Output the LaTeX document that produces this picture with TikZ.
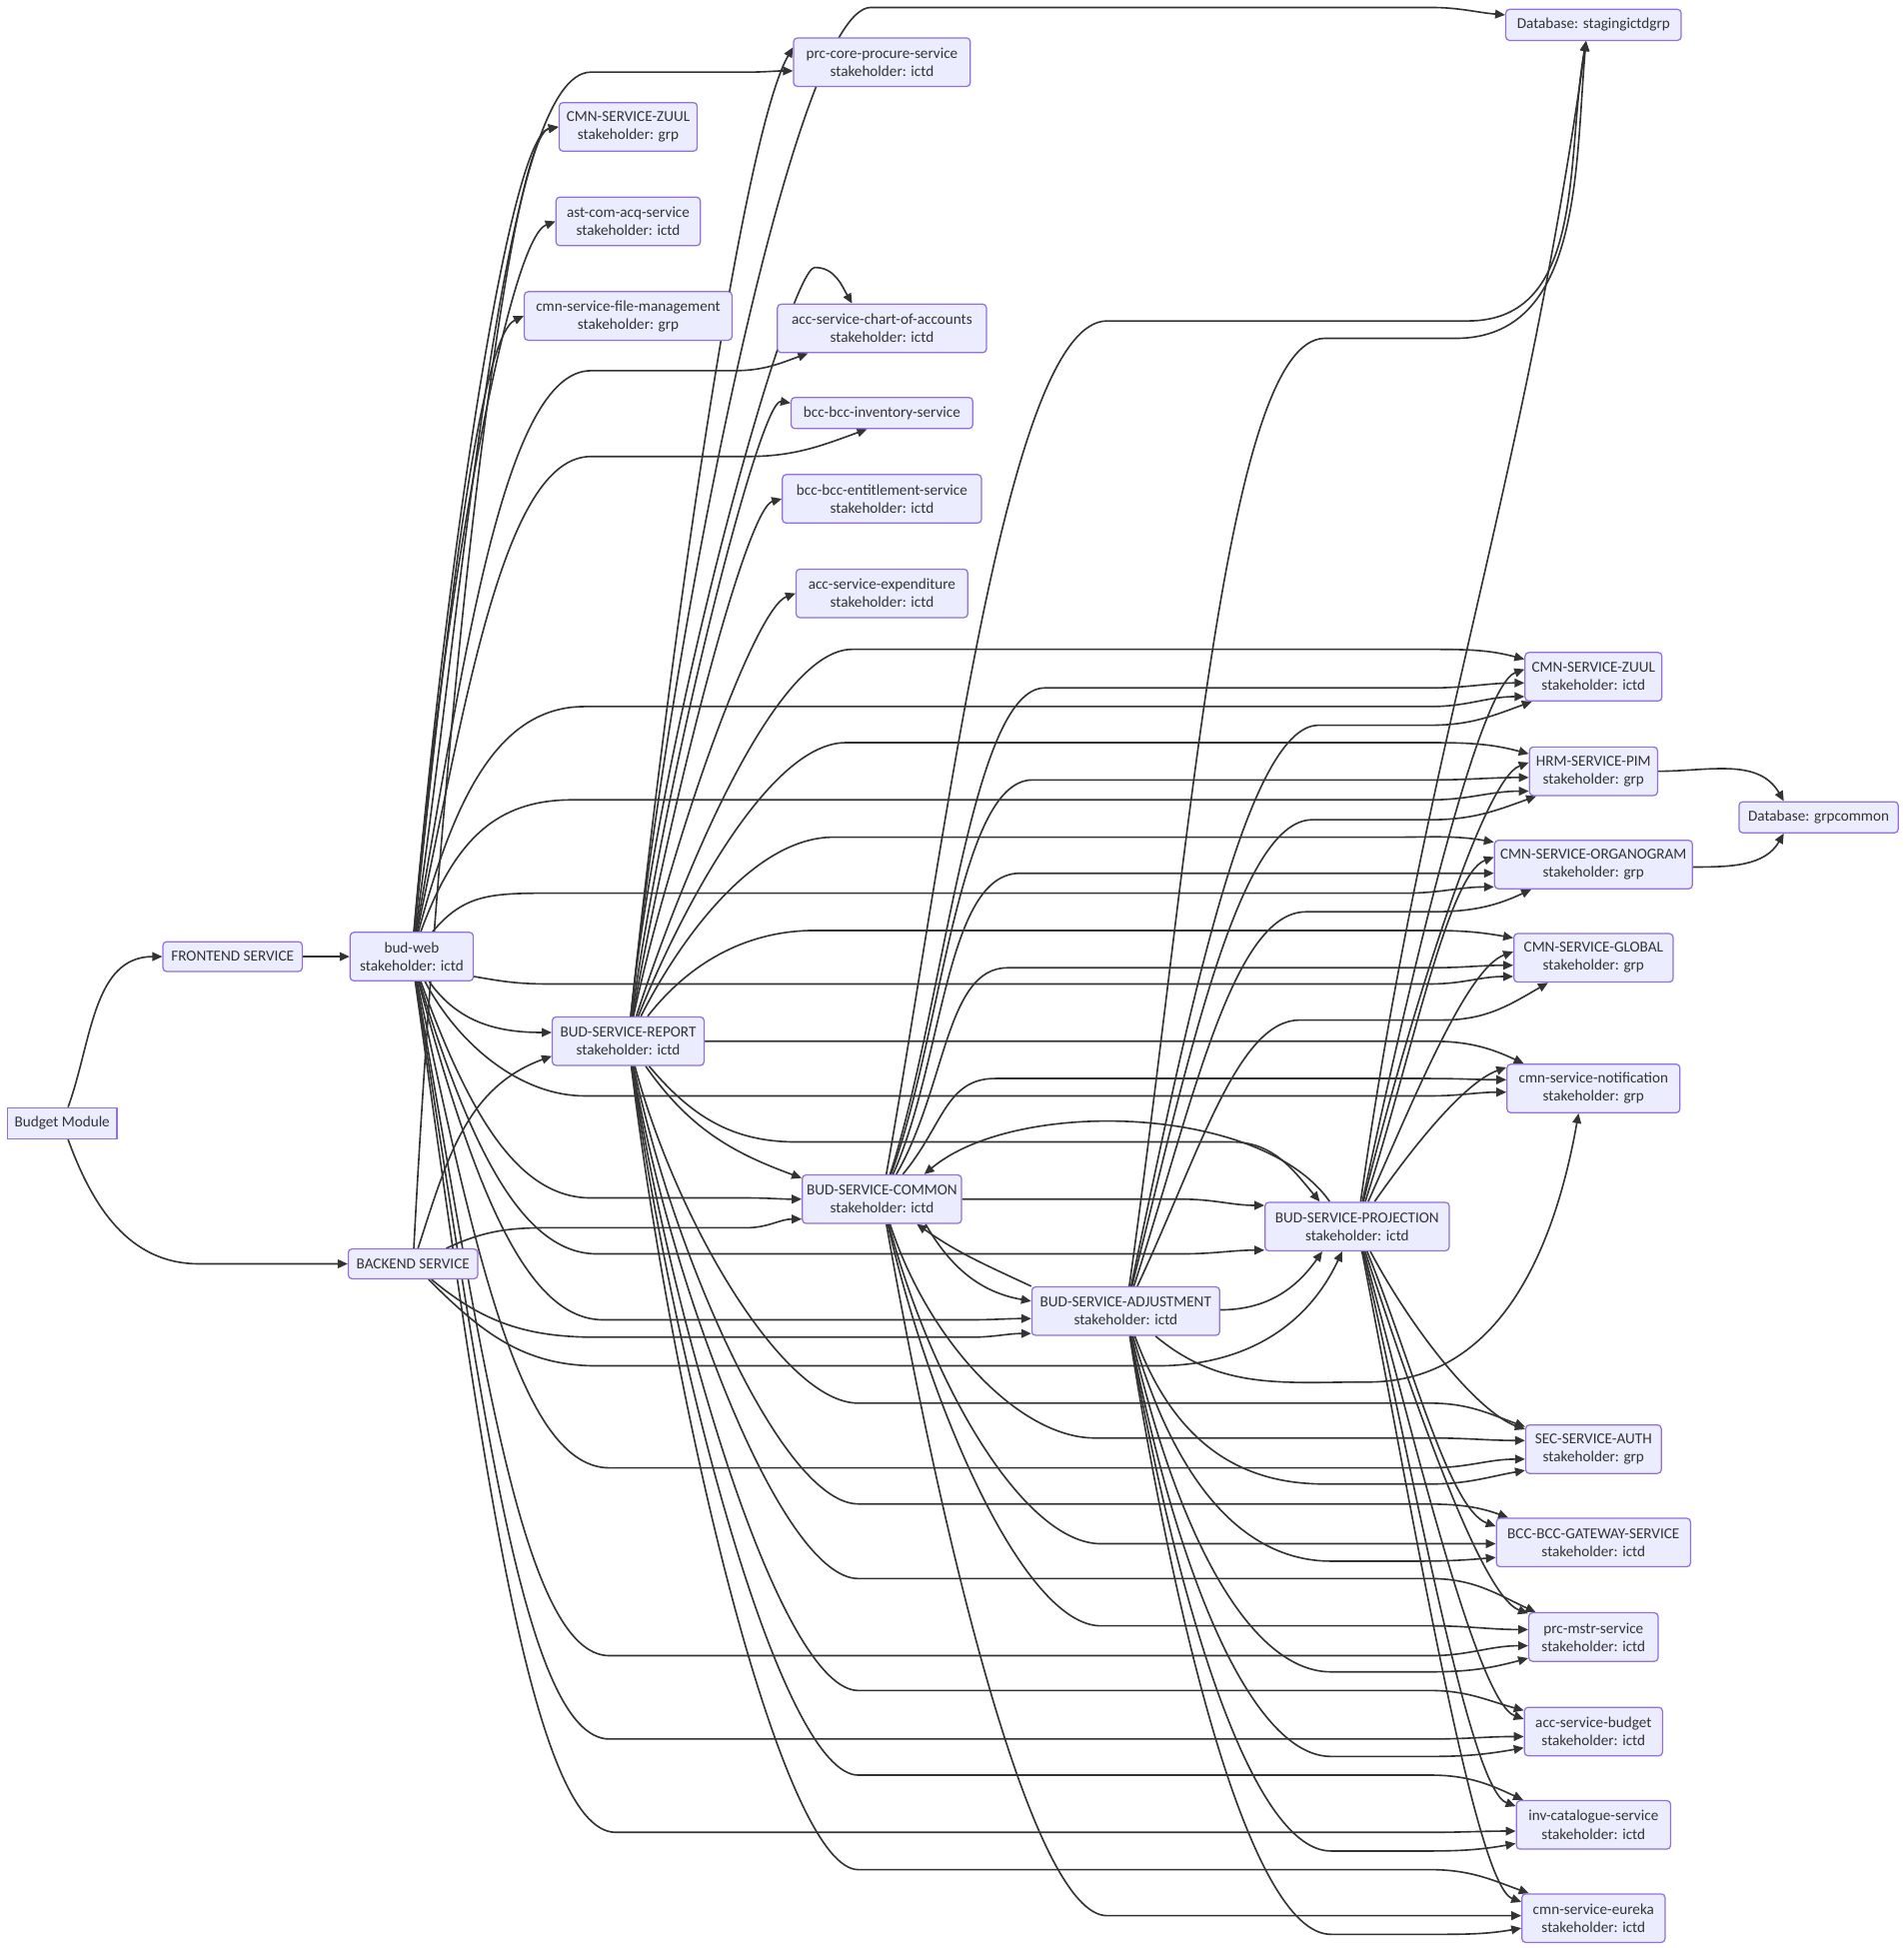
\documentclass[tikz,border=0pt]{standalone}
\usepackage{fontspec}
\setmainfont{Carlito}
\usetikzlibrary{arrows.meta, calc, backgrounds}
\definecolor{svcfill}{HTML}{ECECFF}
\definecolor{svcline}{HTML}{9370DB}
\definecolor{linkc}{HTML}{333333}
\tikzset{
  svc/.style={draw=svcline, fill=svcfill, line width=1pt, rounded corners=3pt, align=center,
    text=linkc, inner sep=0pt, minimum height=39, font=\fontsize{12.2}{14.5}\selectfont},
  svcsq/.style={svc, rounded corners=0pt},
  link/.style={draw=linkc, line width=1.3pt, -{Triangle[length=8pt,width=7pt]}}
}
\newcommand{\lnk}[8]{\draw[link] (#1) to[out=#2,in=180,out distance=#3,in distance=#4] (#5) -- (#6) to[out=0,in=#7] (#8);}

\begin{document}
\begin{tikzpicture}[x=1pt,y=1pt]
\useasboundingbox (0,0) rectangle (1530,-1566);

\node[svcsq, minimum width=88, minimum height=25] (bm) at (50,-903) {Budget Module};
\node[svc, minimum width=112, minimum height=24] (fe) at (187,-769) {FRONTEND SERVICE};
\node[svc, minimum width=99] (web) at (331,-769) {bud-web\\stakeholder: ictd};
\node[svc, minimum width=104, minimum height=24] (be) at (332,-1016) {BACKEND SERVICE};
\node[svc, minimum width=122] (rep) at (505,-837) {BUD-SERVICE-REPORT\\stakeholder: ictd};
\node[svc, minimum width=111] (zuulg) at (505,-102) {CMN-SERVICE-ZUUL\\stakeholder: grp};
\node[svc, minimum width=116] (ast) at (505,-178) {ast-com-acq-service\\stakeholder: ictd};
\node[svc, minimum width=167] (file) at (505,-254) {cmn-service-file-management\\stakeholder: grp};
\node[svc, minimum width=142] (prc) at (709,-50) {prc-core-procure-service\\stakeholder: ictd};
\node[svc, minimum width=168] (chart) at (709,-264) {acc-service-chart-of-accounts\\stakeholder: ictd};
\node[svc, minimum width=146, minimum height=25] (inv) at (709,-332) {bcc-bcc-inventory-service};
\node[svc, minimum width=160] (ent) at (709,-401) {bcc-bcc-entitlement-service\\stakeholder: ictd};
\node[svc, minimum width=138] (exp) at (709,-477) {acc-service-expenditure\\stakeholder: ictd};
\node[svc, minimum width=128] (com) at (709,-964) {BUD-SERVICE-COMMON\\stakeholder: ictd};
\node[svc, minimum width=151] (adj) at (905,-1054) {BUD-SERVICE-ADJUSTMENT\\stakeholder: ictd};
\node[svc, minimum width=148] (proj) at (1091,-986) {BUD-SERVICE-PROJECTION\\stakeholder: ictd};
\node[svc, minimum width=141, minimum height=25] (dbs) at (1281,-20) {Database: stagingictdgrp};
\node[svc, minimum width=110] (zuulc) at (1281,-544) {CMN-SERVICE-ZUUL\\stakeholder: ictd};
\node[svc, minimum width=103] (hrm) at (1281,-620) {HRM-SERVICE-PIM\\stakeholder: grp};
\node[svc, minimum width=159] (org) at (1281,-695) {CMN-SERVICE-ORGANOGRAM\\stakeholder: grp};
\node[svc, minimum width=128] (glob) at (1281,-770) {CMN-SERVICE-GLOBAL\\stakeholder: grp};
\node[svc, minimum width=139] (notif) at (1281,-875) {cmn-service-notification\\stakeholder: grp};
\node[svc, minimum width=128, minimum height=25] (dbg) at (1462,-657) {Database: grpcommon};
\node[svc, minimum width=109] (sec) at (1281,-1165) {SEC-SERVICE-AUTH\\stakeholder: grp};
\node[svc, minimum width=156] (gw) at (1281,-1240) {BCC-BCC-GATEWAY-SERVICE\\stakeholder: ictd};
\node[svc, minimum width=104] (mstr) at (1281,-1316) {prc-mstr-service\\stakeholder: ictd};
\node[svc, minimum width=111] (bud) at (1281,-1392) {acc-service-budget\\stakeholder: ictd};
\node[svc, minimum width=124] (cat) at (1281,-1467) {inv-catalogue-service\\stakeholder: ictd};
\node[svc, minimum width=115] (eur) at (1281,-1542) {cmn-service-eureka\\stakeholder: ictd};

\begin{pgfonlayer}{background}
\fill[white] (0,0) rectangle (1530,-1566);

\draw[link] (bm) to[out=70,in=180] (fe);
\draw[link] (bm) to[out=-70,in=180] (160,-1016) -- (be);
\draw[link] (fe) -- (web);

% bud-web
\draw[link] (web) to[out=85,in=190,out distance=300,in distance=40] (zuulg.west);
\draw[link] (web) to[out=85,in=200,out distance=270,in distance=40] (ast.west);
\draw[link] (web) to[out=84,in=205,out distance=240,in distance=40] (file.west);
\lnk{web}{82}{300}{70}{475,-58}{600,-58}{180}{$(prc.west)+(0,-7)$}
\lnk{web}{80}{220}{70}{475,-298}{590,-298}{200}{$(chart.south west)+(25,0)$}
\lnk{web}{78}{190}{70}{475,-367}{600,-367}{200}{$(inv.south)+(-12,0)$}
\lnk{web}{75}{110}{70}{470,-568}{1150,-568}{180}{$(zuulc.west)+(0,-16)$}
\lnk{web}{70}{80}{60}{460,-643}{1150,-643}{180}{$(hrm.west)+(0,-16)$}
\lnk{web}{50}{40}{50}{445,-718}{1130,-718}{180}{$(org.west)+(0,-18)$}
\draw[link] ($(web.east)+(0,-16)$) to[out=-10,in=180] (440,-791) -- (1150,-791) to[out=0,in=180] ($(glob.west)+(0,-15)$);
\lnk{web}{-62}{60}{50}{470,-881}{1150,-881}{180}{$(notif.west)+(0,-3)$}
\draw[link] (web) to[out=-55,in=180] ($(rep.west)+(0,7)$);
\lnk{web}{-70}{110}{60}{475,-963}{600,-963}{180}{com.west}
\lnk{web}{-73}{140}{60}{480,-1008}{950,-1008}{180}{$(proj.west)+(0,-19)$}
\lnk{web}{-75}{180}{60}{485,-1061}{780,-1061}{180}{$(adj.west)+(0,-6)$}
\lnk{web}{-78}{230}{70}{490,-1180}{1150,-1180}{180}{$(sec.west)+(0,-8)$}
\lnk{web}{-80}{300}{70}{490,-1331}{1150,-1331}{180}{$(mstr.west)+(0,-7)$}
\lnk{web}{-81}{330}{70}{490,-1398}{1150,-1398}{180}{$(bud.west)+(0,-4)$}
\lnk{web}{-82}{360}{70}{495,-1473}{1150,-1473}{180}{$(cat.west)+(0,-5)$}

% backend
\draw[link] (be) to[out=87,in=190,out distance=450,in distance=40] (zuulg.west);
\draw[link] (be) to[out=72,in=200] ($(rep.west)+(0,-12)$);
\draw[link] (be) to[out=25,in=180] (440,-987) -- (600,-987) to[out=0,in=180] ($(com.west)+(0,-16)$);
\draw[link] (be) to[out=-40,in=180] (480,-1075) -- (780,-1075) to[out=0,in=180] ($(adj.west)+(0,-18)$);
\draw[link] (be) to[out=-45,in=180] (480,-1098) -- (930,-1098) to[out=0,in=-115] ($(proj.south)+(-12,0)$);

% report
\draw[link] (rep) to[out=84,in=-120,in distance=80] ($(prc.west)+(0,12)$);
\draw[link] (rep) to[out=84,in=180,out distance=320,in distance=60] (700,-6) -- (1150,-6) to[out=0,in=175] ($(dbs.west)+(0,8)$);
\draw[link] (rep) to[out=84,in=180,in distance=20] (655,-215) to[out=0,in=120] ($(chart.north)+(-24,0)$);
\draw[link] (rep) to[out=82,in=170,in distance=25] ($(inv.west)+(0,8)$);
\draw[link] (rep) to[out=80,in=195,in distance=30] (ent.west);
\draw[link] (rep) to[out=78,in=200,in distance=35] (exp.west);
\lnk{rep}{72}{130}{60}{685,-522}{1150,-522}{165}{$(zuulc.west)+(0,14)$}
\lnk{rep}{68}{100}{60}{680,-597}{1150,-597}{165}{$(hrm.west)+(0,14)$}
\lnk{rep}{63}{80}{60}{670,-673}{1120,-673}{170}{$(org.west)+(0,18)$}
\lnk{rep}{52}{60}{50}{655,-748}{1150,-748}{170}{$(glob.west)+(0,16)$}
\draw[link] (rep.east) -- (1150,-837) to[out=0,in=155] ($(notif.north west)+(14,0)$);
\draw[link] (rep) to[out=-55,in=160] ($(com.west)+(0,17)$);
\draw[link] (rep) to[out=-50,in=180] (640,-918) -- (990,-918) to[out=0,in=130] ($(proj.north)+(-30,0)$);
\lnk{rep}{-75}{130}{60}{690,-1128}{1150,-1128}{160}{$(sec.west)+(0,18)$}
\lnk{rep}{-78}{160}{60}{690,-1209}{1130,-1209}{160}{$(gw.north west)+(10,0)$}
\lnk{rep}{-80}{190}{60}{690,-1269}{1150,-1269}{155}{$(mstr.north west)+(6,0)$}
\lnk{rep}{-81}{230}{60}{690,-1359}{1150,-1359}{165}{$(bud.west)+(0,17)$}
\lnk{rep}{-82}{260}{60}{690,-1427}{1150,-1427}{155}{$(cat.north west)+(6,0)$}
\lnk{rep}{-83}{290}{60}{690,-1503}{1150,-1503}{160}{$(eur.north west)+(6,0)$}

% common
\lnk{com}{80}{280}{80}{890,-258}{1180,-258}{-100}{$(dbs.south)+(-6,0)$}
\lnk{com}{72}{140}{60}{840,-553}{1150,-553}{180}{$(zuulc.west)+(0,-5)$}
\lnk{com}{70}{120}{60}{830,-627}{1150,-627}{180}{$(hrm.west)+(0,-5)$}
\lnk{com}{66}{100}{60}{820,-702}{1120,-702}{180}{$(org.west)+(0,-7)$}
\lnk{com}{60}{80}{50}{810,-778}{1150,-778}{180}{$(glob.west)+(0,-6)$}
\lnk{com}{50}{50}{40}{800,-867}{1150,-867}{180}{$(notif.west)+(0,7)$}
\draw[link] (com.east) -- (950,-964) to[out=0,in=180] ($(proj.west)+(0,17)$);
\draw[link] ($(com.south)+(35,0)$) to[out=-60,in=170] ($(adj.west)+(0,8)$);
\lnk{com}{-72}{100}{60}{880,-1156}{1150,-1156}{180}{$(sec.west)+(0,7)$}
\lnk{com}{-75}{140}{60}{885,-1241}{1130,-1241}{180}{$(gw.west)+(0,-1)$}
\lnk{com}{-77}{160}{60}{885,-1307}{1150,-1307}{180}{$(mstr.west)+(0,6)$}
\lnk{com}{-80}{260}{60}{890,-1540}{1150,-1540}{180}{$(eur.west)+(0,2)$}

% adjustment
\draw[link] (adj.north west) to[out=155,in=-35] ($(com.south)+(28,0)$);
\draw[link] ($(adj.east)+(0,1)$) to[out=0,in=-125] ($(proj.south)+(-28,0)$);
\lnk{adj}{82}{350}{80}{1065,-272}{1170,-272}{-95}{$(dbs.south)+(-6,0)$}
\lnk{adj}{78}{200}{60}{1060,-583}{1150,-583}{200}{$(zuulc.south west)+(6,0)$}
\lnk{adj}{76}{180}{60}{1055,-659}{1150,-659}{200}{$(hrm.south west)+(6,0)$}
\lnk{adj}{72}{150}{60}{1050,-733}{1150,-733}{205}{$(org.south west)+(30,0)$}
\lnk{adj}{65}{120}{50}{1045,-820}{1160,-820}{210}{$(glob.south west)+(28,0)$}
\draw[link] (adj) to[out=-40,in=180] (1100,-1111) to[out=0,in=-100] ($(notif.south)+(-12,0)$);
\lnk{adj}{-70}{100}{60}{1065,-1193}{1150,-1193}{190}{$(sec.west)+(0,-17)$}
\lnk{adj}{-74}{140}{60}{1070,-1255}{1140,-1255}{185}{$(gw.west)+(0,-12)$}
\lnk{adj}{-77}{180}{60}{1070,-1344}{1150,-1344}{195}{$(mstr.west)+(0,-17)$}
\lnk{adj}{-79}{210}{60}{1070,-1412}{1150,-1412}{190}{$(bud.west)+(0,-13)$}
\lnk{adj}{-80}{240}{60}{1070,-1488}{1150,-1488}{190}{$(cat.west)+(0,-15)$}
\lnk{adj}{-81}{270}{60}{1070,-1555}{1150,-1555}{190}{$(eur.west)+(0,-8)$}

% projection
\draw[link] ($(proj.north)+(-22,0)$) to[out=125,in=40,looseness=.75] ($(com.north)+(34,0)$);
\draw[link] (proj) to[out=82,in=-98] ($(dbs.south)+(-6,0)$);
\draw[link] (proj) to[out=78,in=200,in distance=40] ($(zuulc.west)+(0,6)$);
\draw[link] (proj) to[out=76,in=200,in distance=40] ($(hrm.west)+(0,7)$);
\draw[link] (proj) to[out=72,in=200,in distance=40] ($(org.west)+(0,6)$);
\draw[link] (proj) to[out=66,in=200,in distance=40] ($(glob.west)+(0,5)$);
\draw[link] (proj) to[out=55,in=200,in distance=35] ($(notif.west)+(0,17)$);
\draw[link] (proj) to[out=-62,in=160,in distance=40] ($(sec.west)+(0,16)$);
\draw[link] (proj) to[out=-68,in=160,in distance=40] ($(gw.west)+(0,13)$);
\draw[link] (proj) to[out=-72,in=160,in distance=40] ($(mstr.west)+(0,19)$);
\draw[link] (proj) to[out=-75,in=160,in distance=40] ($(bud.west)+(0,10)$);
\draw[link] (proj) to[out=-77,in=160,in distance=40] ($(cat.west)+(0,15)$);
\draw[link] (proj) to[out=-79,in=160,in distance=40] ($(eur.west)+(0,13)$);

\draw[link] (hrm.east) to[out=0,in=120] ($(dbg.north)+(-28,0)$);
\draw[link] ($(org.east)+(0,-2)$) to[out=0,in=-120] ($(dbg.south)+(-28,0)$);
\end{pgfonlayer}
\end{tikzpicture}
\end{document}
